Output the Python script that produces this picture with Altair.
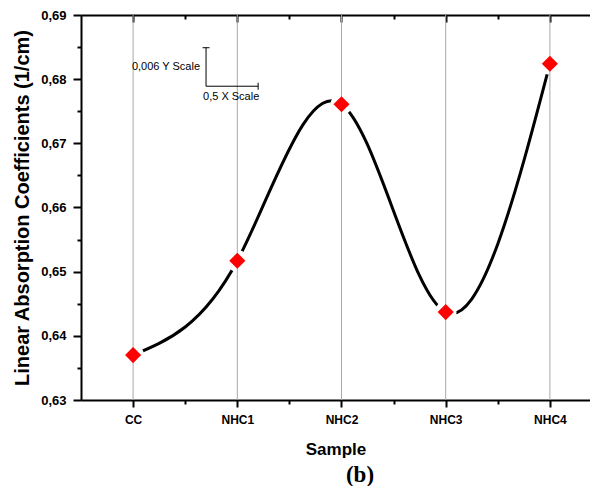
import altair as alt
import pandas as pd

# ---- data ----
samples = ["CC", "NHC1", "NHC2", "NHC3", "NHC4"]
absorption = [0.6370, 0.6517, 0.6761, 0.6437, 0.6824]
y_ticks = [round(0.63 + 0.005 * i, 3) for i in range(13)]
x_ticks = [i * 0.5 for i in range(9)]

# scale-bar annotation (data units)
scale_x0 = 0.70
scale_y0 = 0.6789
scale_dx = 0.5
scale_dy = 0.006
scale_y_label = "0,006 Y Scale"
scale_x_label = "0,5 X Scale"
caption = "(b)"

df = pd.DataFrame({"idx": list(range(len(samples))), "sample": samples, "value": absorption})
bar = pd.DataFrame({"x0": [scale_x0], "x1": [scale_x0 + scale_dx],
                    "y0": [scale_y0], "y1": [scale_y0 + scale_dy],
                    "ymid": [scale_y0 + scale_dy / 2],
                    "ylab": [scale_y_label], "xlab": [scale_x_label], "cap": [caption]})

FONT = "Liberation Sans"
xs = alt.Scale(domain=[-0.5, 4.385], nice=False, zero=False)
ys = alt.Scale(domain=[0.63, 0.69], nice=False, zero=False)

names_js = "[" + ",".join(f"'{s}'" for s in samples) + "]"
x_major = "datum.value % 1 === 0"
y_major = "round(datum.value * 1000) % 10 === 0"

common = dict(grid=False, domainColor="black", domainWidth=2, tickColor="black", tickWidth=2,
              labelFont=FONT, labelFontWeight="bold", labelColor="black",
              titleFont=FONT, titleFontWeight="bold", titleColor="black",
              labelOverlap=False, labelFlush=False)

bottom_axis = alt.Axis(orient="bottom", values=x_ticks, title="Sample", titleFontSize=17,
                       labelFontSize=12,
                       labelExpr=f"{x_major} ? {names_js}[datum.value] : ''",
                       tickSize={"condition": {"test": x_major, "value": 7}, "value": 4},
                       labelPadding=7, titlePadding=16, **common)
left_axis = alt.Axis(orient="left", values=y_ticks, title="Linear Absorption Coefficients (1/cm)",
                     titleFontSize=20, labelFontSize=13,
                     labelExpr=f"{y_major} ? replace(format(datum.value, '.2f'), '.', ',') : ''",
                     tickSize={"condition": {"test": y_major, "value": 8}, "value": 4},
                     labelPadding=7, titlePadding=8, **common)
top_axis = alt.Axis(orient="top", values=x_ticks, title=None, labels=False,
                    tickSize={"condition": {"test": x_major, "value": -7}, "value": -4},
                    **common)

line = alt.Chart(df).mark_line(interpolate="natural", color="black", strokeWidth=3).encode(
    x=alt.X("idx:Q", scale=xs, axis=bottom_axis),
    y=alt.Y("value:Q", scale=ys, axis=left_axis),
)
halo = alt.Chart(df).mark_point(shape="circle", filled=True, color="white", size=470, opacity=1).encode(
    x=alt.X("idx:Q", scale=xs, axis=None),
    y=alt.Y("value:Q", scale=ys, axis=None),
)
grid = alt.Chart(df).mark_rule(color="#a8a8a8", strokeWidth=1).encode(
    x=alt.X("idx:Q", scale=xs, axis=top_axis),
)
vbar = alt.Chart(bar).mark_rule(color="black", strokeWidth=1).encode(
    x=alt.X("x0:Q", scale=xs, axis=None),
    y=alt.Y("y0:Q", scale=ys, axis=None), y2="y1:Q",
)
hbar = alt.Chart(bar).mark_rule(color="black", strokeWidth=1).encode(
    x=alt.X("x0:Q", scale=xs, axis=None), x2="x1:Q",
    y=alt.Y("y0:Q", scale=ys, axis=None),
)
vcap = alt.Chart(bar).mark_point(shape="M-1,0L1,0", filled=False, color="black", strokeWidth=1,
                                 size=49, opacity=1).encode(
    x=alt.X("x0:Q", scale=xs, axis=None),
    y=alt.Y("y1:Q", scale=ys, axis=None),
)
hcap = alt.Chart(bar).mark_point(shape="M0,-1L0,1", filled=False, color="black", strokeWidth=1,
                                 size=49, opacity=1).encode(
    x=alt.X("x1:Q", scale=xs, axis=None),
    y=alt.Y("y0:Q", scale=ys, axis=None),
)
ytext = alt.Chart(bar).mark_text(font=FONT, fontSize=11, align="right", baseline="middle",
                                 dx=-6, color="black").encode(
    x=alt.X("x0:Q", scale=xs, axis=None),
    y=alt.Y("ymid:Q", scale=ys, axis=None),
    text="ylab:N",
)
xtext = alt.Chart(bar).mark_text(font=FONT, fontSize=11, align="left", baseline="top",
                                 dx=-3, dy=5, color="black").encode(
    x=alt.X("x0:Q", scale=xs, axis=None),
    y=alt.Y("y0:Q", scale=ys, axis=None),
    text="xlab:N",
)
points = alt.Chart(df).mark_point(shape="diamond", filled=True, color="#ff0000", size=260, opacity=1).encode(
    x=alt.X("idx:Q", scale=xs, axis=None),
    y=alt.Y("value:Q", scale=ys, axis=None),
)
cap_text = alt.Chart(bar).mark_text(font="Liberation Serif", fontSize=23, fontWeight="bold",
                                    align="center", baseline="middle", color="black").encode(
    x=alt.value(279), y=alt.value(460), text="cap:N",
)

chart = alt.layer(line, halo, grid, vbar, hbar, vcap, hcap, ytext, xtext, points, cap_text).resolve_axis(
    x="independent", y="independent"
).properties(
    width=509, height=385, autosize="none",
    padding={"left": 73, "top": 7, "right": 0, "bottom": 86},
).configure_view(stroke=None).configure(background="white")

chart.save("out.html", embed_options={"renderer": "svg", "actions": False})
